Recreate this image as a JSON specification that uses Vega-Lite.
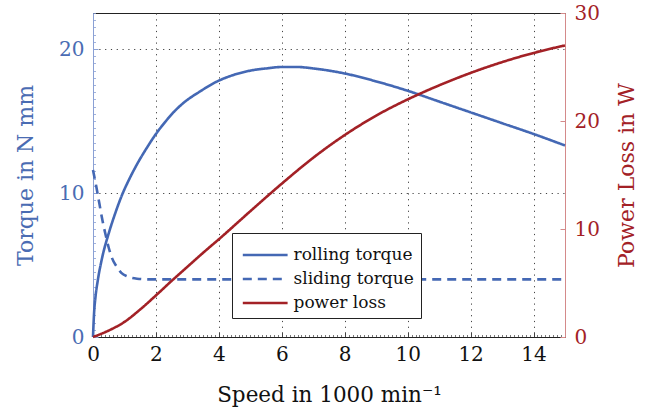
{
  "$schema": "https://vega.github.io/schema/vega-lite/v6.json",
  "width": 472,
  "height": 324,
  "autosize": {"type": "none"},
  "padding": {"left": 93, "top": 13, "right": 95, "bottom": 80},
  "background": "white",
  "config": {
    "view": {"stroke": "#222", "strokeWidth": 1},
    "font": "DejaVu Serif",
    "axis": {"labelFont": "DejaVu Serif", "titleFont": "DejaVu Serif", "titleFontWeight": "normal", "labelFontSize": 20, "titleFontSize": 22},
    "legend": {"labelFont": "DejaVu Serif"}
  },
  "datasets": {
    "torque": [
      {"x": 0, "v": 0, "s": "rolling torque"},
      {"x": 0.03, "v": 1.5, "s": "rolling torque"},
      {"x": 0.08, "v": 2.8, "s": "rolling torque"},
      {"x": 0.15, "v": 3.9, "s": "rolling torque"},
      {"x": 0.29, "v": 5.5, "s": "rolling torque"},
      {"x": 0.5, "v": 7.2, "s": "rolling torque"},
      {"x": 0.7, "v": 8.55, "s": "rolling torque"},
      {"x": 0.92, "v": 9.85, "s": "rolling torque"},
      {"x": 1.15, "v": 10.95, "s": "rolling torque"},
      {"x": 1.4, "v": 12.0, "s": "rolling torque"},
      {"x": 1.7, "v": 13.1, "s": "rolling torque"},
      {"x": 2.0, "v": 14.1, "s": "rolling torque"},
      {"x": 2.3, "v": 14.95, "s": "rolling torque"},
      {"x": 2.6, "v": 15.7, "s": "rolling torque"},
      {"x": 2.9, "v": 16.3, "s": "rolling torque"},
      {"x": 3.4, "v": 17.05, "s": "rolling torque"},
      {"x": 3.9, "v": 17.7, "s": "rolling torque"},
      {"x": 4.4, "v": 18.15, "s": "rolling torque"},
      {"x": 5.0, "v": 18.5, "s": "rolling torque"},
      {"x": 5.5, "v": 18.65, "s": "rolling torque"},
      {"x": 6.0, "v": 18.75, "s": "rolling torque"},
      {"x": 6.5, "v": 18.75, "s": "rolling torque"},
      {"x": 7.0, "v": 18.65, "s": "rolling torque"},
      {"x": 7.5, "v": 18.5, "s": "rolling torque"},
      {"x": 8.0, "v": 18.3, "s": "rolling torque"},
      {"x": 9.0, "v": 17.75, "s": "rolling torque"},
      {"x": 10.0, "v": 17.1, "s": "rolling torque"},
      {"x": 11.0, "v": 16.35, "s": "rolling torque"},
      {"x": 12.0, "v": 15.6, "s": "rolling torque"},
      {"x": 13.0, "v": 14.85, "s": "rolling torque"},
      {"x": 14.0, "v": 14.1, "s": "rolling torque"},
      {"x": 15.0, "v": 13.3, "s": "rolling torque"},
      {"x": 0, "v": 11.6, "s": "sliding torque"},
      {"x": 0.1, "v": 10.5, "s": "sliding torque"},
      {"x": 0.2, "v": 9.3, "s": "sliding torque"},
      {"x": 0.3, "v": 8.1, "s": "sliding torque"},
      {"x": 0.4, "v": 7.1, "s": "sliding torque"},
      {"x": 0.5, "v": 6.2, "s": "sliding torque"},
      {"x": 0.6, "v": 5.5, "s": "sliding torque"},
      {"x": 0.75, "v": 4.9, "s": "sliding torque"},
      {"x": 0.9, "v": 4.45, "s": "sliding torque"},
      {"x": 1.1, "v": 4.2, "s": "sliding torque"},
      {"x": 1.4, "v": 4.05, "s": "sliding torque"},
      {"x": 1.8, "v": 4.0, "s": "sliding torque"},
      {"x": 15.0, "v": 4.0, "s": "sliding torque"}
    ],
    "power": [
      {"x": 0, "v": 0, "s": "power loss"},
      {"x": 0.5, "v": 0.6, "s": "power loss"},
      {"x": 1.0, "v": 1.4, "s": "power loss"},
      {"x": 1.5, "v": 2.55, "s": "power loss"},
      {"x": 2.0, "v": 3.85, "s": "power loss"},
      {"x": 2.5, "v": 5.2, "s": "power loss"},
      {"x": 3.0, "v": 6.5, "s": "power loss"},
      {"x": 3.5, "v": 7.8, "s": "power loss"},
      {"x": 4.0, "v": 9.05, "s": "power loss"},
      {"x": 5.0, "v": 11.65, "s": "power loss"},
      {"x": 6.0, "v": 14.2, "s": "power loss"},
      {"x": 7.0, "v": 16.6, "s": "power loss"},
      {"x": 8.0, "v": 18.7, "s": "power loss"},
      {"x": 9.0, "v": 20.5, "s": "power loss"},
      {"x": 10.0, "v": 22.0, "s": "power loss"},
      {"x": 11.0, "v": 23.3, "s": "power loss"},
      {"x": 12.0, "v": 24.45, "s": "power loss"},
      {"x": 13.0, "v": 25.45, "s": "power loss"},
      {"x": 14.0, "v": 26.3, "s": "power loss"},
      {"x": 15.0, "v": 27.0, "s": "power loss"}
    ]
  },
  "layer": [
    {
      "data": {"name": "torque"},
      "mark": {"type": "point", "opacity": 0},
      "encoding": {
        "x": {"field": "x", "type": "quantitative",
          "scale": {"domain": [0, 15], "nice": false, "zero": false},
          "axis": {"orient": "bottom", "values": [0.125,0.25,0.375,0.5,0.625,0.75,0.875,1,1.125,1.25,1.375,1.5,1.625,1.75,1.875,2,2.125,2.25,2.375,2.5,2.625,2.75,2.875,3,3.125,3.25,3.375,3.5,3.625,3.75,3.875,4,4.125,4.25,4.375,4.5,4.625,4.75,4.875,5,5.125,5.25,5.375,5.5,5.625,5.75,5.875,6,6.125,6.25,6.375,6.5,6.625,6.75,6.875,7,7.125,7.25,7.375,7.5,7.625,7.75,7.875,8,8.125,8.25,8.375,8.5,8.625,8.75,8.875,9,9.125,9.25,9.375,9.5,9.625,9.75,9.875,10,10.125,10.25,10.375,10.5,10.625,10.75,10.875,11,11.125,11.25,11.375,11.5,11.625,11.75,11.875,12,12.125,12.25,12.375,12.5,12.625,12.75,12.875,13,13.125,13.25,13.375,13.5,13.625,13.75,13.875,14,14.125,14.25,14.375,14.5,14.625,14.75,14.875],
            "title": null, "labels": false, "domain": false, "grid": false, "tickSize": -2.5, "tickColor": "#555", "tickWidth": 0.8}},
        "y": {"field": "v", "type": "quantitative",
          "scale": {"domain": [0, 22.5], "nice": false},
          "axis": {"orient": "left", "tickCount": 45, "title": null, "labels": false, "domain": false, "grid": false, "tickSize": -2.5, "tickColor": "#8aa0d4", "tickWidth": 0.8}}
      }
    },
    {
      "data": {"name": "torque"},
      "mark": {"type": "line", "strokeWidth": 2.6, "interpolate": "monotone"},
      "encoding": {
        "x": {"field": "x", "type": "quantitative",
          "scale": {"domain": [0, 15], "nice": false, "zero": false},
          "axis": {"orient": "bottom", "values": [0, 2, 4, 6, 8, 10, 12, 14], "title": "Speed in 1000 min⁻¹", "titlePadding": 20, "titleFontSize": 21.5,
            "domainColor": "#222", "tickColor": "#444", "tickSize": -5, "labelPadding": 12, "labelColor": "#111", "titleColor": "#111",
            "grid": true, "gridDash": [1.2, 4.6], "gridColor": "#444", "gridWidth": 1, "labelFlush": false}},
        "y": {"field": "v", "type": "quantitative",
          "scale": {"domain": [0, 22.5], "nice": false},
          "axis": {"orient": "left", "values": [0, 10, 20], "title": "Torque in N mm", "titlePadding": 21,
            "domainColor": "#8aa0d4", "tickColor": "#8aa0d4", "tickSize": -5, "labelPadding": 14, "labelColor": "#4a6cb3", "titleColor": "#4a6cb3",
            "grid": true, "gridDash": [1.2, 4.6], "gridColor": "#444", "gridWidth": 1}},
        "color": {"field": "s", "type": "nominal",
          "scale": {"domain": ["rolling torque", "sliding torque", "power loss"], "range": ["#4468b4", "#4468b4", "#a32126"]},
          "legend": {"title": null, "orient": "none", "legendX": 139, "legendY": 220, "fillColor": "white", "strokeColor": "#222", "padding": 6.5,
            "symbolType": "M-0.8,0H2.4", "symbolSize": 784, "symbolStrokeWidth": 2.6, "labelFont": "DejaVu Serif", "labelFontSize": 17, "labelColor": "#111", "rowPadding": 0, "labelOffset": 24, "symbolOpacity": 1}},
        "strokeDash": {"field": "s", "type": "nominal",
          "scale": {"domain": ["rolling torque", "sliding torque", "power loss"], "range": [[1, 0], [9, 6], [1, 0]]}}
      }
    },
    {
      "data": {"name": "power"},
      "mark": {"type": "line", "strokeWidth": 2.6, "interpolate": "monotone"},
      "encoding": {
        "x": {"field": "x", "type": "quantitative", "axis": null},
        "y": {"field": "v", "type": "quantitative",
          "scale": {"domain": [0, 30], "nice": false},
          "axis": {"orient": "right", "values": [0, 10, 20, 30], "title": "Power Loss in W", "titlePadding": 17, "titleAngle": 270, "titleBaseline": "top",
            "domainColor": "#d48a8a", "tickColor": "#d48a8a", "tickSize": -5, "labelPadding": 14, "labelColor": "#a32126", "titleColor": "#a32126", "grid": false}},
        "color": {"field": "s", "type": "nominal"},
        "strokeDash": {"field": "s", "type": "nominal"}
      }
    }
  ],
  "resolve": {"scale": {"y": "independent"}, "axis": {"x": "independent"}}
}
